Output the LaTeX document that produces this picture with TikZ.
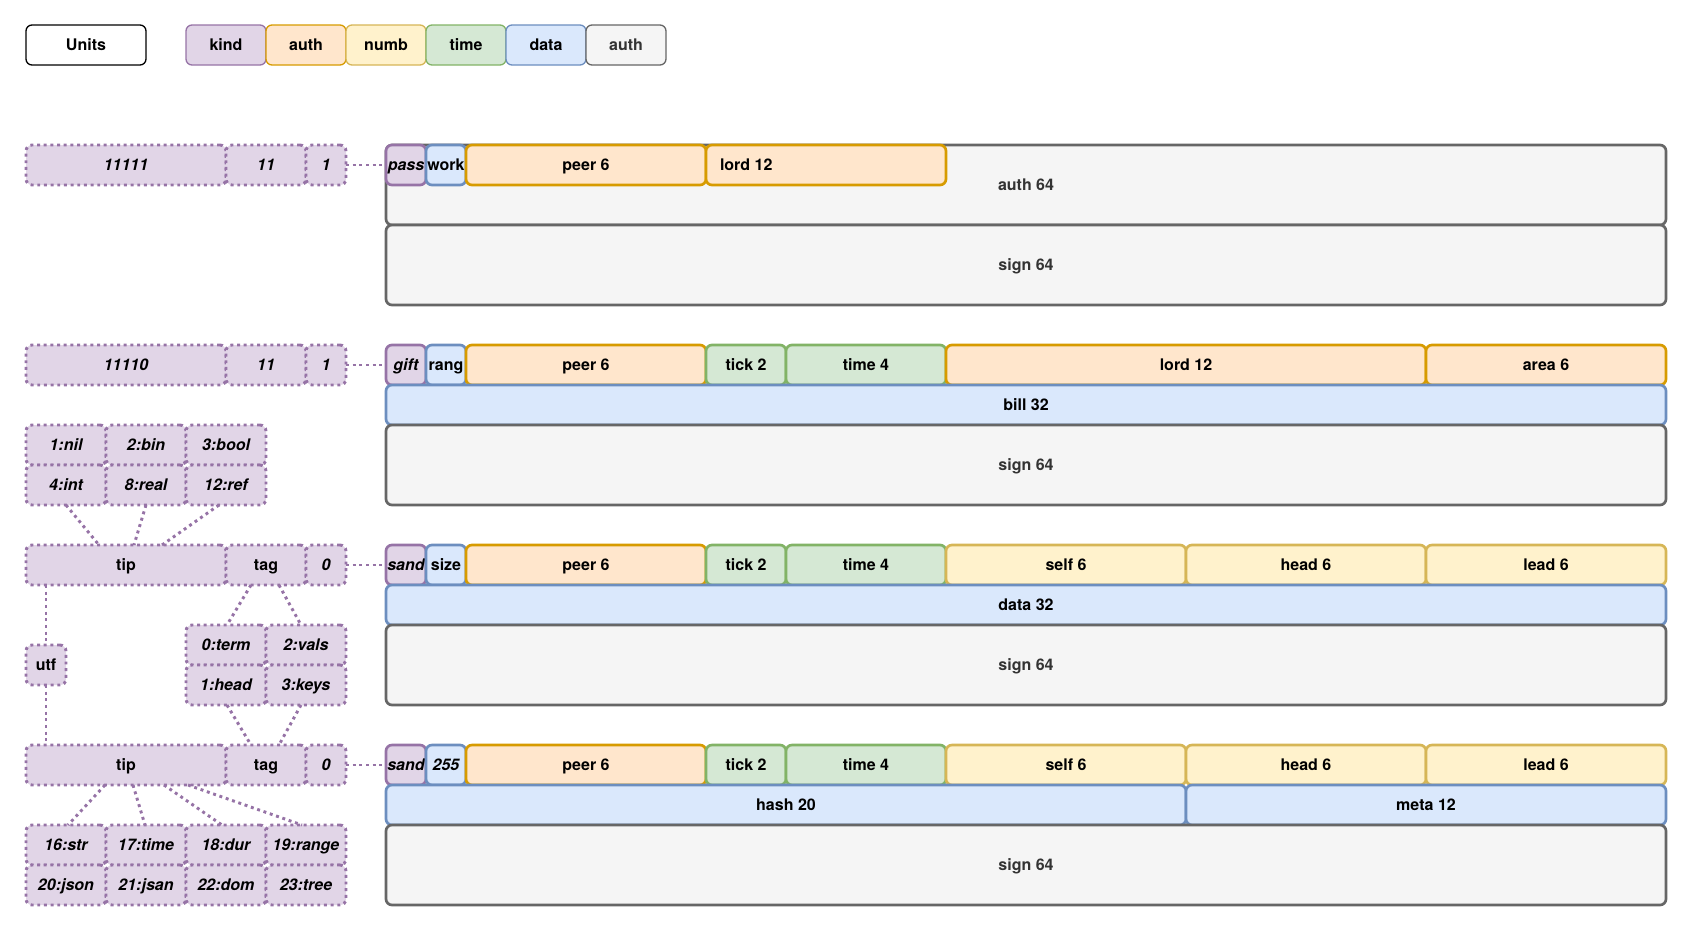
\documentclass[tikz,border=0pt]{standalone}
\usepackage{fontspec}
\setmainfont{TeX Gyre Heros}
\usetikzlibrary{calc}

\definecolor{kindF}{HTML}{E1D5E7}\definecolor{kindD}{HTML}{9673A6}
\definecolor{authF}{HTML}{FFE6CC}\definecolor{authD}{HTML}{D79B00}
\definecolor{numbF}{HTML}{FFF2CC}\definecolor{numbD}{HTML}{D6B656}
\definecolor{timeF}{HTML}{D5E8D4}\definecolor{timeD}{HTML}{82B366}
\definecolor{dataF}{HTML}{DAE8FC}\definecolor{dataD}{HTML}{6C8EBF}
\definecolor{signF}{HTML}{F5F5F5}\definecolor{signD}{HTML}{666666}
\definecolor{signT}{HTML}{333333}

% box: name, x, y (top-left, px), width, height, style, text
\newcommand\mkbox[7]{\node[#6, minimum width=#4*0.75pt, minimum height=#5*0.75pt] (#1) at (#2,#3) {#7};}

\begin{document}
\begin{tikzpicture}[x=0.75pt, y=-0.75pt,
  box/.style={anchor=north west, inner sep=0pt, outer sep=0pt, rounded corners=4.5pt,
    font=\fontsize{12}{14}\selectfont\bfseries, text height=10.9pt, text depth=2.5pt},
  leg/.style={box, line width=1pt},
  cell/.style={box, line width=2pt},
  kindc/.style={cell, fill=kindF, draw=kindD},
  authc/.style={cell, fill=authF, draw=authD},
  numbc/.style={cell, fill=numbF, draw=numbD},
  timec/.style={cell, fill=timeF, draw=timeD},
  datac/.style={cell, fill=dataF, draw=dataD},
  signc/.style={cell, fill=signF, draw=signD, text=signT},
  dotbox/.style={box, fill=kindF, draw=kindD, line width=2.2pt, dash pattern=on 2.2pt off 2.8pt,
    font=\fontsize{12}{14}\selectfont\bfseries\itshape},
  dotup/.style={dotbox, font=\fontsize{12}{14}\selectfont\bfseries},
  link/.style={draw=kindD, line width=2.2pt, dash pattern=on 2.2pt off 2.8pt},
  it/.style={font=\fontsize{12}{14}\selectfont\bfseries\itshape}
]
\useasboundingbox (0,0) rectangle (1693,932);

% legend
\mkbox{units}{26}{25}{120}{40}{leg, draw=black, fill=white}{Units}
\mkbox{lkind}{186}{25}{80}{40}{leg, fill=kindF, draw=kindD}{kind}
\mkbox{lauth}{266}{25}{80}{40}{leg, fill=authF, draw=authD}{auth}
\mkbox{lnumb}{346}{25}{80}{40}{leg, fill=numbF, draw=numbD}{numb}
\mkbox{ltime}{426}{25}{80}{40}{leg, fill=timeF, draw=timeD}{time}
\mkbox{ldata}{506}{25}{80}{40}{leg, fill=dataF, draw=dataD}{data}
\mkbox{lsign}{586}{25}{80}{40}{leg, fill=signF, draw=signD, text=signT}{auth}

% ---------- record 1 ----------
\mkbox{ka1}{26}{145}{200}{40}{dotbox}{11111}
\mkbox{kb1}{226}{145}{80}{40}{dotbox}{11}
\mkbox{kc1}{306}{145}{40}{40}{dotbox}{1}
\mkbox{auth1}{386}{145}{1280}{80}{signc}{auth 64}
\mkbox{sign1}{386}{225}{1280}{80}{signc}{sign 64}
\mkbox{pass1}{386}{145}{40}{40}{kindc, it}{pass}
\mkbox{work1}{426}{145}{40}{40}{datac}{work}
\mkbox{peer1}{466}{145}{240}{40}{authc}{peer 6}
\mkbox{lord1}{706}{145}{240}{40}{authc}{}
\node[box, anchor=west] (lord1t) at ($(lord1.west)+(14,0)$) {lord 12};
\draw[link] (kc1.east) -- (pass1.west);

% ---------- record 2 ----------
\mkbox{ka2}{26}{345}{200}{40}{dotbox}{11110}
\mkbox{kb2}{226}{345}{80}{40}{dotbox}{11}
\mkbox{kc2}{306}{345}{40}{40}{dotbox}{1}
\mkbox{gift2}{386}{345}{40}{40}{kindc, it}{gift}
\mkbox{rang2}{426}{345}{40}{40}{datac}{rang}
\mkbox{peer2}{466}{345}{240}{40}{authc}{peer 6}
\mkbox{tick2}{706}{345}{80}{40}{timec}{tick 2}
\mkbox{time2}{786}{345}{160}{40}{timec}{time 4}
\mkbox{lord2}{946}{345}{480}{40}{authc}{lord 12}
\mkbox{area2}{1426}{345}{240}{40}{authc}{area 6}
\mkbox{bill2}{386}{385}{1280}{40}{datac}{bill 32}
\mkbox{sign2}{386}{425}{1280}{80}{signc}{sign 64}
\draw[link] (kc2.east) -- (gift2.west);

\mkbox{tnil}{26}{425}{80}{40}{dotbox}{1:nil}
\mkbox{tbin}{106}{425}{80}{40}{dotbox}{2:bin}
\mkbox{tbool}{186}{425}{80}{40}{dotbox}{3:bool}
\mkbox{tint}{26}{465}{80}{40}{dotbox}{4:int}
\mkbox{treal}{106}{465}{80}{40}{dotbox}{8:real}
\mkbox{tref}{186}{465}{80}{40}{dotbox}{12:ref}

% ---------- record 3 ----------
\mkbox{tip3}{26}{545}{200}{40}{dotup}{tip}
\mkbox{tag3}{226}{545}{80}{40}{dotup}{tag}
\mkbox{kc3}{306}{545}{40}{40}{dotbox}{0}
\mkbox{sand3}{386}{545}{40}{40}{kindc, it}{sand}
\mkbox{size3}{426}{545}{40}{40}{datac}{size}
\mkbox{peer3}{466}{545}{240}{40}{authc}{peer 6}
\mkbox{tick3}{706}{545}{80}{40}{timec}{tick 2}
\mkbox{time3}{786}{545}{160}{40}{timec}{time 4}
\mkbox{self3}{946}{545}{240}{40}{numbc}{self 6}
\mkbox{head3}{1186}{545}{240}{40}{numbc}{head 6}
\mkbox{lead3}{1426}{545}{240}{40}{numbc}{lead 6}
\mkbox{data3}{386}{585}{1280}{40}{datac}{data 32}
\mkbox{sign3}{386}{625}{1280}{80}{signc}{sign 64}
\draw[link] (kc3.east) -- (sand3.west);

\draw[link] (tint.south) -- ($(tip3.north west)+(73,0)$);
\draw[link] (treal.south) -- ($(tip3.north west)+(108,0)$);
\draw[link] ($(tref.south)+(-7,0)$) -- ($(tip3.north west)+(136,0)$);

\mkbox{utf}{26}{645}{40}{40}{dotup}{utf}
\mkbox{cterm}{186}{625}{80}{40}{dotbox}{0:term}
\mkbox{cvals}{266}{625}{80}{40}{dotbox}{2:vals}
\mkbox{chead}{186}{665}{80}{40}{dotbox}{1:head}
\mkbox{ckeys}{266}{665}{80}{40}{dotbox}{3:keys}
\draw[link] ($(tip3.south west)+(20,0)$) -- (utf.north);
\draw[link] ($(tag3.south west)+(25,0)$) -- ($(cterm.north)+(1,0)$);
\draw[link] ($(tag3.south west)+(53,0)$) -- ($(cvals.north)+(-5,0)$);

% ---------- record 4 ----------
\mkbox{tip4}{26}{745}{200}{40}{dotup}{tip}
\mkbox{tag4}{226}{745}{80}{40}{dotup}{tag}
\mkbox{kc4}{306}{745}{40}{40}{dotbox}{0}
\mkbox{sand4}{386}{745}{40}{40}{kindc, it}{sand}
\mkbox{num4}{426}{745}{40}{40}{datac, it}{255}
\mkbox{peer4}{466}{745}{240}{40}{authc}{peer 6}
\mkbox{tick4}{706}{745}{80}{40}{timec}{tick 2}
\mkbox{time4}{786}{745}{160}{40}{timec}{time 4}
\mkbox{self4}{946}{745}{240}{40}{numbc}{self 6}
\mkbox{head4}{1186}{745}{240}{40}{numbc}{head 6}
\mkbox{lead4}{1426}{745}{240}{40}{numbc}{lead 6}
\mkbox{hash4}{386}{785}{800}{40}{datac}{hash 20}
\mkbox{meta4}{1186}{785}{480}{40}{datac}{meta 12}
\mkbox{sign4}{386}{825}{1280}{80}{signc}{sign 64}
\draw[link] (kc4.east) -- (sand4.west);

\draw[link] (utf.south) -- ($(tip4.north west)+(20,0)$);
\draw[link] ($(chead.south)+(1,0)$) -- ($(tag4.north west)+(25,0)$);
\draw[link] ($(ckeys.south)+(-5,0)$) -- ($(tag4.north west)+(53,0)$);

\mkbox{ustr}{26}{825}{80}{40}{dotbox}{16:str}
\mkbox{utime}{106}{825}{80}{40}{dotbox}{17:time}
\mkbox{udur}{186}{825}{80}{40}{dotbox}{18:dur}
\mkbox{urange}{266}{825}{80}{40}{dotbox}{19:range}
\mkbox{ujson}{26}{865}{80}{40}{dotbox}{20:json}
\mkbox{ujsan}{106}{865}{80}{40}{dotbox}{21:jsan}
\mkbox{udom}{186}{865}{80}{40}{dotbox}{22:dom}
\mkbox{utree}{266}{865}{80}{40}{dotbox}{23:tree}
\draw[link] ($(tip4.south west)+(79,0)$) -- ($(ustr.north)+(2,0)$);
\draw[link] ($(tip4.south west)+(107,0)$) -- ($(utime.north)+(-1,0)$);
\draw[link] ($(tip4.south west)+(138,0)$) -- ($(udur.north)+(-4,0)$);
\draw[link] ($(tip4.south west)+(162,0)$) -- ($(urange.north)+(-4,0)$);
\end{tikzpicture}
\end{document}
